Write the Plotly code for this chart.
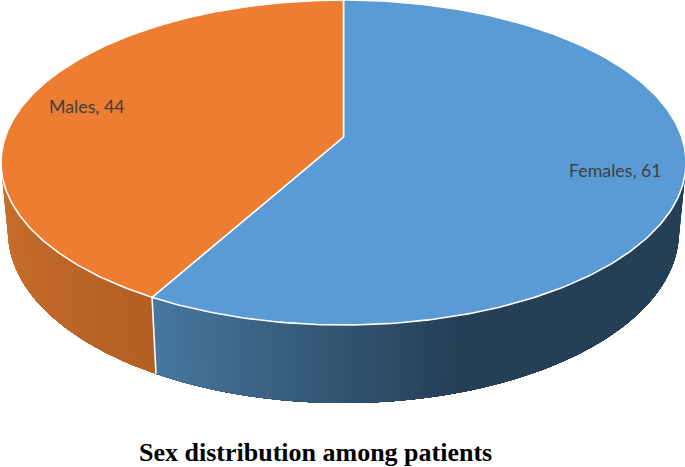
import numpy as np
import plotly.graph_objects as go

categories = ["Females", "Males"]
values = [61, 44]
title_text = "Sex distribution among patients"

W, H = 685, 467
TOP = dict(cx=343.5, cy=162.5, rx=342.5, ry=162.5)
BOT = dict(cx=343.5, cy=232.0, rx=335.5, ry=171.0)
APEX = (343.5, 137.0)
FRONT = {"Females": "#5b9bd5", "Males": "#ed7d31"}


def view(t_deg):
    """clockwise pie angle -> displayed angle on the tilted ellipse (slight perspective)"""
    return t_deg + 5.0 * np.sin(np.radians(t_deg) / 2)


def pt(e, t_deg):
    a = np.radians(t_deg)
    return e["cx"] + e["rx"] * np.sin(a), e["cy"] - e["ry"] * np.cos(a)


def mix(c1, c2, f):
    f = min(max(f, 0.0), 1.0)
    a = [int(c1[i:i + 2], 16) for i in (1, 3, 5)]
    b = [int(c2[i:i + 2], 16) for i in (1, 3, 5)]
    return "rgb(%d,%d,%d)" % tuple(round(x + (y - x) * f) for x, y in zip(a, b))


split = view(360 * values[0] / sum(values))
fig = go.Figure()


def poly(xs, ys, fill, line=None, width=0.0):
    fig.add_trace(go.Scatter(
        x=xs, y=ys, mode="lines", fill="toself", fillcolor=fill,
        line=dict(color=line or fill, width=width),
        hoverinfo="skip", showlegend=False))


# side wall: each strip reaches to the far end of its slice so no seams show
def wall(a_from, a_to, c_from, c_to, f_of):
    edges = np.linspace(a_from, a_to, int(abs(a_to - a_from)) + 1)
    for a, b in zip(edges[:-1], edges[1:]):
        c = mix(c_from, c_to, f_of((a + b) / 2))
        ts = np.linspace(a, a_to, 60)
        xt, yt = pt(TOP, ts)
        xb, yb = pt(BOT, ts[::-1])
        poly(np.concatenate([xt, xb]), np.concatenate([yt, yb]), c)


wall(90, split, "#253f56", "#47789f", lambda m: (m - 160) / (split - 160))
wall(270, split, "#c86e2c", "#b35f24", lambda m: (262 - m) / (262 - split))

# white seam on the side wall
sx0, sy0 = pt(TOP, split)
sx1, sy1 = pt(BOT, split)
fig.add_trace(go.Scatter(x=[sx0, sx1], y=[sy0, sy1], mode="lines",
                         line=dict(color="white", width=1.6),
                         hoverinfo="skip", showlegend=False))

# top faces
starts = [0.0, split]
ends = [split, 360.0]
for name, a, b in zip(categories, starts, ends):
    ts = np.linspace(a, b, 240)
    xs, ys = pt(TOP, ts)
    xs = np.concatenate([[APEX[0]], xs, [APEX[0]]])
    ys = np.concatenate([[APEX[1]], ys, [APEX[1]]])
    poly(xs, ys, FRONT[name], "white", 1.6)

# data labels
fig.add_annotation(x=615.5, y=170, xref="x", yref="y", showarrow=False,
                   text=f"{categories[0]}, {values[0]}",
                   font=dict(family="Lato", size=17.8, color="#404040"))
fig.add_annotation(x=87, y=106, xref="x", yref="y", showarrow=False,
                   text=f"{categories[1]}, {values[1]}",
                   font=dict(family="Lato", size=17.8, color="#404040"))
fig.add_annotation(x=315, y=452, xref="x", yref="y", showarrow=False,
                   text=f"<b>{title_text}</b>",
                   font=dict(family="Liberation Serif", size=26, color="#000000"))

fig.update_layout(
    width=W, height=H, autosize=False,
    margin=dict(l=0, r=0, t=0, b=0),
    paper_bgcolor="white", plot_bgcolor="white", showlegend=False,
    xaxis=dict(range=[0, W], visible=False, fixedrange=True),
    yaxis=dict(range=[H, 0], visible=False, fixedrange=True),
)
fig.write_html("out.html", config=dict(displayModeBar=False),
               post_script="document.body.style.margin='0';document.documentElement.style.overflow='hidden';window.dispatchEvent(new Event('resize'));")
